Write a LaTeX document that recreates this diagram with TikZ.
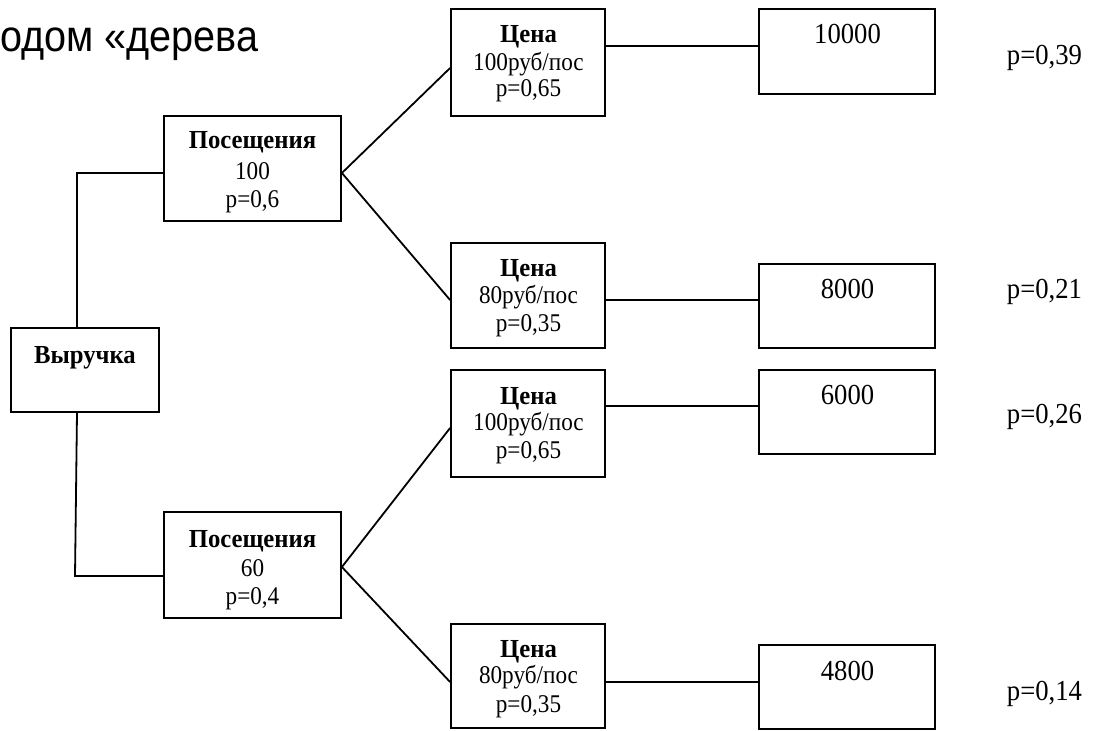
\documentclass[tikz,border=0pt]{standalone}
\usepackage{fontspec}
\setmainfont{Liberation Serif}
\newfontfamily\titlefont[FakeStretch=0.9]{Liberation Sans}
\newfontfamily\hdfont[FakeStretch=0.95]{Liberation Serif}
\newfontfamily\txfont[FakeStretch=0.91]{Liberation Serif}
\newfontfamily\rsfont[FakeStretch=0.92]{Liberation Serif}
\begin{document}
\begin{tikzpicture}[x=1pt,y=-1pt,
  box/.style={draw, line width=1.8pt, inner sep=0pt},
  ln/.style={line width=1.8pt},
  hd/.style={font=\hdfont\fontsize{26}{28}\selectfont\bfseries, anchor=base, inner sep=0pt},
  tx/.style={font=\txfont\fontsize{25.5}{27}\selectfont, anchor=base, inner sep=0pt},
  rs/.style={font=\rsfont\fontsize{29}{31}\selectfont, anchor=base, inner sep=0pt}]
\useasboundingbox (0,0) rectangle (1099,730);

% title
\node[font=\titlefont\fontsize{44}{50}\selectfont, anchor=base west, inner sep=0pt] (title) at (0,52) {одом «дерева};

% boxes
\node[box, minimum width=148pt, minimum height=84pt] (rev) at (85,370) {};
\node[box, minimum width=177pt, minimum height=105pt] (v1) at (252.5,168.5) {};
\node[box, minimum width=177pt, minimum height=106pt] (v2) at (252.5,565) {};
\node[box, minimum width=154pt, minimum height=107pt] (c1) at (528,62.5) {};
\node[box, minimum width=154pt, minimum height=105pt] (c2) at (528,295.5) {};
\node[box, minimum width=154pt, minimum height=107pt] (c3) at (528,423.5) {};
\node[box, minimum width=154pt, minimum height=104pt] (c4) at (528,676) {};
\node[box, minimum width=176pt, minimum height=85pt] (r1) at (847,51.5) {};
\node[box, minimum width=176pt, minimum height=84pt] (r2) at (847,306) {};
\node[box, minimum width=176pt, minimum height=84pt] (r3) at (847,412) {};
\node[box, minimum width=176pt, minimum height=84pt] (r4) at (847,687) {};

% texts
\node[hd] (revt) at (85,363) {Выручка};
\node[hd] (v1a) at (252.5,149) {Посещения};
\node[tx] (v1b) at (252.5,179) {100};
\node[tx] (v1c) at (252.5,207) {p=0,6};
\node[hd] (v2a) at (252.5,547) {Посещения};
\node[tx] (v2b) at (252.5,576) {60};
\node[tx] (v2c) at (252.5,604) {p=0,4};

\node[hd] (c1a) at (528.5,43) {Цена};
\node[tx] (c1b) at (528.5,71) {100руб/пос};
\node[tx] (c1c) at (528.5,97) {p=0,65};
\node[hd] (c2a) at (528.5,276) {Цена};
\node[tx] (c2b) at (528.5,303) {80руб/пос};
\node[tx] (c2c) at (528.5,331) {p=0,35};
\node[hd] (c3a) at (528.5,404) {Цена};
\node[tx] (c3b) at (528.5,430) {100руб/пос};
\node[tx] (c3c) at (528.5,458) {p=0,65};
\node[hd] (c4a) at (528.5,657) {Цена};
\node[tx] (c4b) at (528.5,683) {80руб/пос};
\node[tx] (c4c) at (528.5,712) {p=0,35};

\node[rs] (r1t) at (847.5,44) {10000};
\node[rs] (r2t) at (847.5,298) {8000};
\node[rs] (r3t) at (847.5,404) {6000};
\node[rs] (r4t) at (847.5,680) {4800};

\node[rs] (p1) at (1044.5,65) {p=0,39};
\node[rs] (p2) at (1044.5,298) {p=0,21};
\node[rs] (p3) at (1044.5,423) {p=0,26};
\node[rs] (p4) at (1044.5,700) {p=0,14};

% connectors
\coordinate (j1) at (77,173);
\coordinate (j2) at (75,576);
\draw[ln] (rev.north -| j1) -- (j1) -- (j1 -| v1.west);
\draw[ln] (rev.south -| j1) -- (j2) -- (j2 -| v2.west);

\path ([yshift=-4.5pt]v1.east) coordinate (v1o);
\path ([yshift=-2pt]v2.east) coordinate (v2o);
\path ([yshift=-5.5pt]c1.west) coordinate (c1i);
\path ([yshift=-4.5pt]c2.west) coordinate (c2i);
\path ([yshift=-4.5pt]c3.west) coordinate (c3i);
\path ([yshift=-6pt]c4.west) coordinate (c4i);
\draw[ln] (v1o) -- (c1i);
\draw[ln] (v1o) -- (c2i);
\draw[ln] (v2o) -- (c3i);
\draw[ln] (v2o) -- (c4i);

\path ([yshift=16.5pt]c1.east) coordinate (c1o);
\path ([yshift=-4.5pt]c2.east) coordinate (c2o);
\path ([yshift=17.5pt]c3.east) coordinate (c3o);
\path ([yshift=-6pt]c4.east) coordinate (c4o);
\draw[ln] (c1o) -- (c1o -| r1.west);
\draw[ln] (c2o) -- (c2o -| r2.west);
\draw[ln] (c3o) -- (c3o -| r3.west);
\draw[ln] (c4o) -- (c4o -| r4.west);
\end{tikzpicture}
\end{document}
